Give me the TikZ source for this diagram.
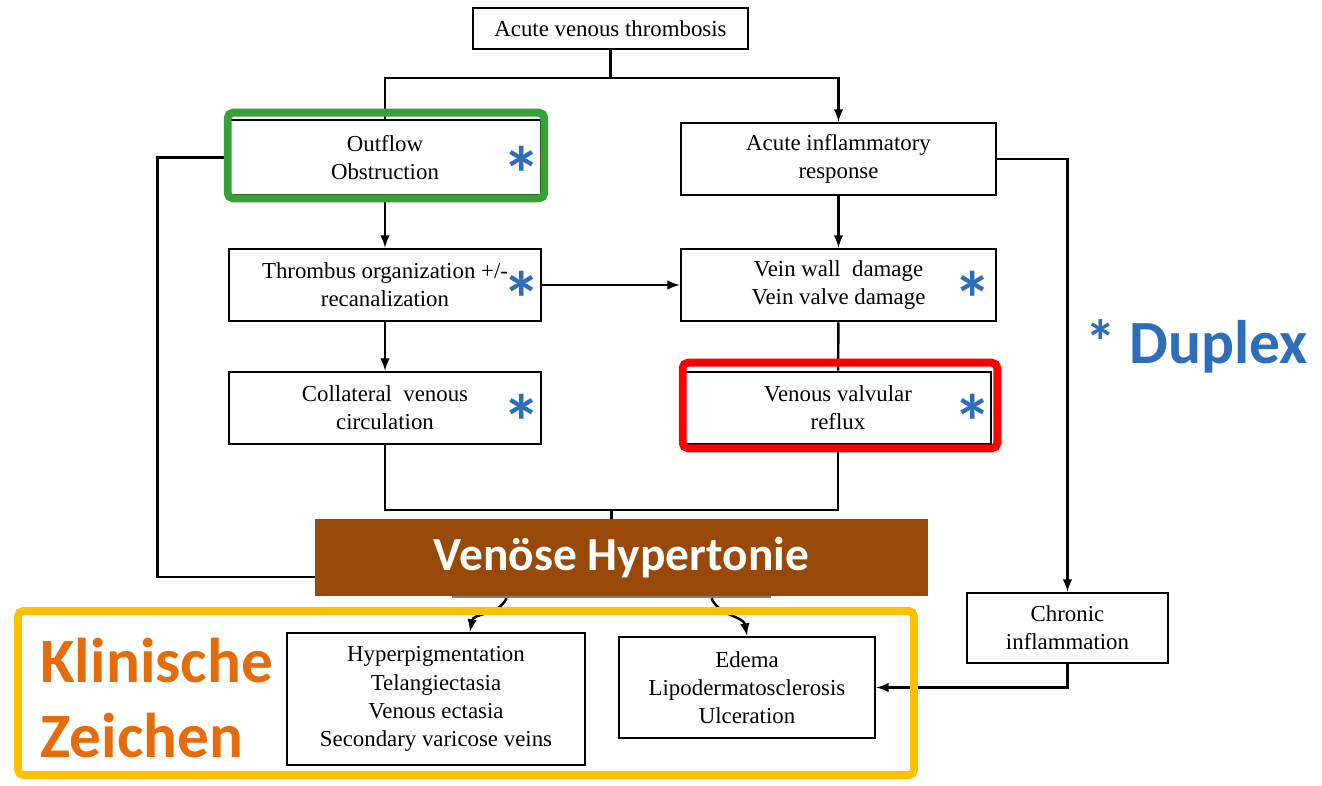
\documentclass[tikz,border=0pt]{standalone}
\usepackage{fontspec}
\setmainfont{Liberation Serif}
\newfontfamily\carlito{Carlito}
\usepackage{tikz}

\definecolor{hypbrown}{RGB}{152,72,7}
\definecolor{framegreen}{RGB}{55,160,55}
\definecolor{frameyellow}{RGB}{255,192,0}
\definecolor{signorange}{RGB}{228,108,10}
\definecolor{duplexblue}{RGB}{46,110,182}

\begin{document}
\begin{tikzpicture}[x=0.02cm,y=-0.02cm,
    box/.style={draw,line width=1.5pt,fill=white,align=center,inner sep=2pt,font=\fontsize{13}{16}\selectfont},
    conn/.style={line width=1.4pt},
    arr/.style={line width=1.4pt,->,>=latex},
    frame/.style={line width=4.5pt,rounded corners=3pt},
    dupstar/.style={text=duplexblue,font=\carlito\bfseries\fontsize{44}{44}\selectfont,inner sep=0pt}]
  \useasboundingbox (0,0) rectangle (1322,785);

  % flow chart boxes
  \node[box,minimum width=5.5cm,minimum height=0.82cm] (top) at (610.5,28.5) {Acute venous thrombosis};
  \node[box,minimum width=6.24cm,minimum height=1.5cm] (outflow) at (385,157.5) {Outflow\\Obstruction};
  \node[box,minimum width=6.3cm,minimum height=1.44cm] (acute) at (838.5,159) {Acute inflammatory\\response};
  \node[box,minimum width=6.24cm,minimum height=1.44cm] (thrombus) at (385,285) {Thrombus organization +/-\\recanalization};
  \node[box,minimum width=6.3cm,minimum height=1.44cm] (vein) at (838.5,285) {Vein wall\ \ damage\\Vein valve damage};
  \node[box,minimum width=6.24cm,minimum height=1.44cm] (collateral) at (385,408) {Collateral\ \ venous\\circulation};
  \node[box,minimum width=6.12cm,minimum height=1.44cm] (reflux) at (838,408) {Venous valvular\\reflux};
  \node[box,minimum width=4.02cm,minimum height=1.4cm] (chronic) at (1067.5,628) {Chronic\\inflammation};
  \node[box,minimum width=5.96cm,minimum height=2.64cm] (hyperpig) at (436,699) {Hyperpigmentation\\Telangiectasia\\Venous ectasia\\Secondary varicose veins};
  \node[box,minimum width=5.12cm,minimum height=2.02cm] (edema) at (747,687.5) {Edema\\Lipodermatosclerosis\\Ulceration};
  \node[box,draw=gray,minimum width=6.34cm,minimum height=0.8cm] (hyp) at (611.5,577) {};

  % connectors
  \coordinate (split) at (610.5,78);
  \coordinate (join) at (611.5,510);
  \draw[conn] (top.south) -- (split);
  \draw[conn] (split) -| (outflow.north);
  \draw[arr] (split) -| (acute.north);
  \draw[arr] (outflow) -- (thrombus);
  \draw[arr] (acute) -- (vein);
  \draw[arr] (thrombus) -- (vein);
  \draw[arr] (thrombus) -- (collateral);
  \draw[conn] (vein) -- (reflux);
  \draw[conn] (collateral.south) |- (join) -| (reflux.south);
  \draw[conn] (join) -- (hyp.north);
  \draw[arr] (outflow.west) -- ++(-70,0) |- (hyp.west);
  \draw[arr] (acute.east) -| (chronic.north);
  \draw[arr] (chronic.south) |- (edema.east);
  \draw[arr] ([xshift=-2.1cm]hyp.south) to[out=-115,in=80] ([xshift=0.68cm]hyperpig.north);
  \draw[arr] ([xshift=2.0cm]hyp.south) to[out=-65,in=100] (edema.north);

  % overlay
  \node[fill=hypbrown,minimum width=12.26cm,minimum height=1.54cm,text=white,
        font=\carlito\bfseries\fontsize{27}{27}\selectfont] (venhyp) at (621.5,557.5) {Venöse Hypertonie};
  \draw[frame,framegreen] ([shift={(0,-6)}]outflow.north west) rectangle ([shift={(2,2)}]outflow.south east);
  \draw[frame,red] ([shift={(-1,-8)}]reflux.north west) rectangle ([shift={(5,3)}]reflux.south east);
  \draw[frame,frameyellow] (18,611) rectangle (914,775);

  \foreach \n/\p in {s1/{(522,174)},s2/{(522,299)},s3/{(522,422)},s4/{(973,299)},s5/{(973,422)}}
    \node[dupstar] (\n) at \p {*};

  \node[anchor=base west,inner sep=0pt,text=signorange,font=\carlito\bfseries\fontsize{36}{36}\selectfont] (klin) at (40,682) {Klinische};
  \node[anchor=base west,inner sep=0pt,text=signorange,font=\carlito\bfseries\fontsize{36}{36}\selectfont] (zeich) at (40,757) {Zeichen};
  \node[anchor=base west,inner sep=0pt,text=duplexblue,font=\carlito\bfseries\fontsize{35}{35}\selectfont] (duplex) at (1085,363) {* Duplex};
\end{tikzpicture}
\end{document}
